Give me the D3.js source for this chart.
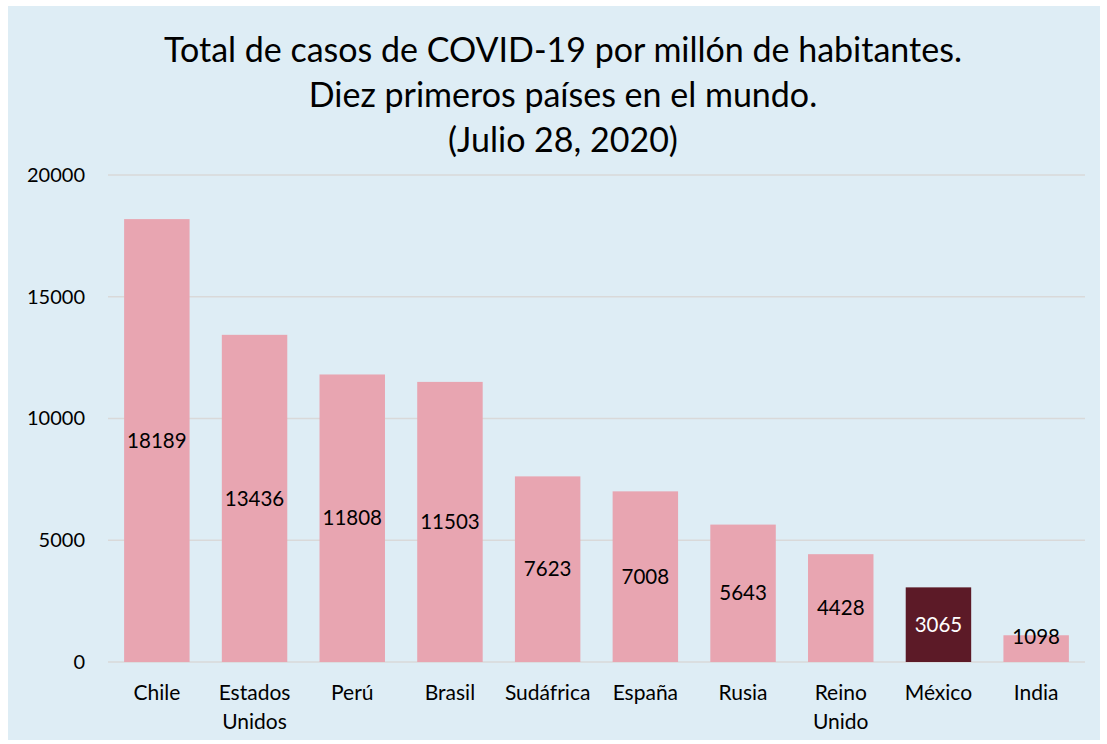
<!DOCTYPE html>
<html>
<head>
<meta charset="utf-8">
<script src="https://cdn.jsdelivr.net/npm/d3@7"></script>
<style>
  body { margin: 0; background: #ffffff; }
  svg text { font-family: Lato, "Open Sans", sans-serif; fill: #000; }
</style>
</head>
<body>
<svg id="chart"></svg>
<script>
var countries = ["Chile", "Estados Unidos", "Perú", "Brasil", "Sudáfrica", "España", "Rusia", "Reino Unido", "México", "India"];
var cases = [18189, 13436, 11808, 11503, 7623, 7008, 5643, 4428, 3065, 1098];
var yTicks = [0, 5000, 10000, 15000, 20000];
var titleLines = ["Total de casos de COVID-19 por millón de habitantes.", "Diez primeros países en el mundo.", "(Julio 28, 2020)"];
var highlight = "México";

var width = 1107, height = 744;
var plot = { left: 108, right: 1085, top: 175, bottom: 662 };

var svg = d3.select("#chart")
    .attr("width", width)
    .attr("height", height);

// panel background
svg.append("rect")
    .attr("x", 8).attr("y", 6)
    .attr("width", 1092).attr("height", 734)
    .attr("fill", "#deedf5");

var x = d3.scaleBand()
    .domain(countries)
    .range([plot.left, plot.right])
    .paddingInner(0.33)
    .paddingOuter(0.165);

var y = d3.scaleLinear()
    .domain([0, 20000])
    .range([plot.bottom, plot.top]);

// gridlines
svg.append("g")
    .selectAll("line")
    .data(yTicks)
    .join("line")
    .attr("x1", plot.left).attr("x2", plot.right)
    .attr("y1", function(d) { return y(d); })
    .attr("y2", function(d) { return y(d); })
    .attr("stroke", "#d9d9d9")
    .attr("stroke-width", 1.5);

// y axis labels
var yAxis = d3.axisLeft(y).tickValues(yTicks).tickFormat(d3.format("d")).tickSize(0).tickPadding(0);
svg.append("g")
    .attr("transform", "translate(85,0)")
    .call(yAxis)
    .call(function(g) {
        g.select(".domain").remove();
        g.selectAll("text")
            .attr("font-size", 20)
            .attr("font-family", "Lato, sans-serif")
            .attr("fill", "#000");
    });

// bars
svg.append("g")
    .selectAll("rect")
    .data(countries)
    .join("rect")
    .attr("x", function(d) { return x(d); })
    .attr("y", function(d, i) { return y(cases[i]); })
    .attr("width", x.bandwidth())
    .attr("height", function(d, i) { return y(0) - y(cases[i]); })
    .attr("fill", function(d) { return d === highlight ? "#5c1a27" : "#e8a5b1"; });

// value labels
svg.append("g")
    .selectAll("text")
    .data(countries)
    .join("text")
    .attr("x", function(d) { return x(d) + x.bandwidth() / 2; })
    .attr("y", function(d, i) {
        var mid = (y(cases[i]) + y(0)) / 2;
        return Math.min(mid, y(0) - 25);
    })
    .attr("dy", "0.35em")
    .attr("text-anchor", "middle")
    .attr("font-size", 20.5)
    .style("fill", function(d) { return d === highlight ? "#ffffff" : "#000000"; })
    .text(function(d, i) { return cases[i]; });

// category labels (two words wrap on two lines)
var cat = svg.append("g")
    .selectAll("text")
    .data(countries)
    .join("text")
    .attr("text-anchor", "middle")
    .attr("font-size", 21)
    .attr("x", function(d) { return x(d) + x.bandwidth() / 2; })
    .attr("y", 700);
cat.each(function(d) {
    var words = d.split(" ");
    var t = d3.select(this);
    words.forEach(function(w, k) {
        t.append("tspan")
            .attr("x", x(d) + x.bandwidth() / 2)
            .attr("dy", k === 0 ? 0 : 29)
            .text(w);
    });
});

// title
svg.append("g")
    .selectAll("text")
    .data(titleLines)
    .join("text")
    .attr("x", 563)
    .attr("y", function(d, i) { return 62 + i * 45; })
    .attr("text-anchor", "middle")
    .attr("font-size", 34)
    .text(function(d) { return d; });
</script>
</body>
</html>
